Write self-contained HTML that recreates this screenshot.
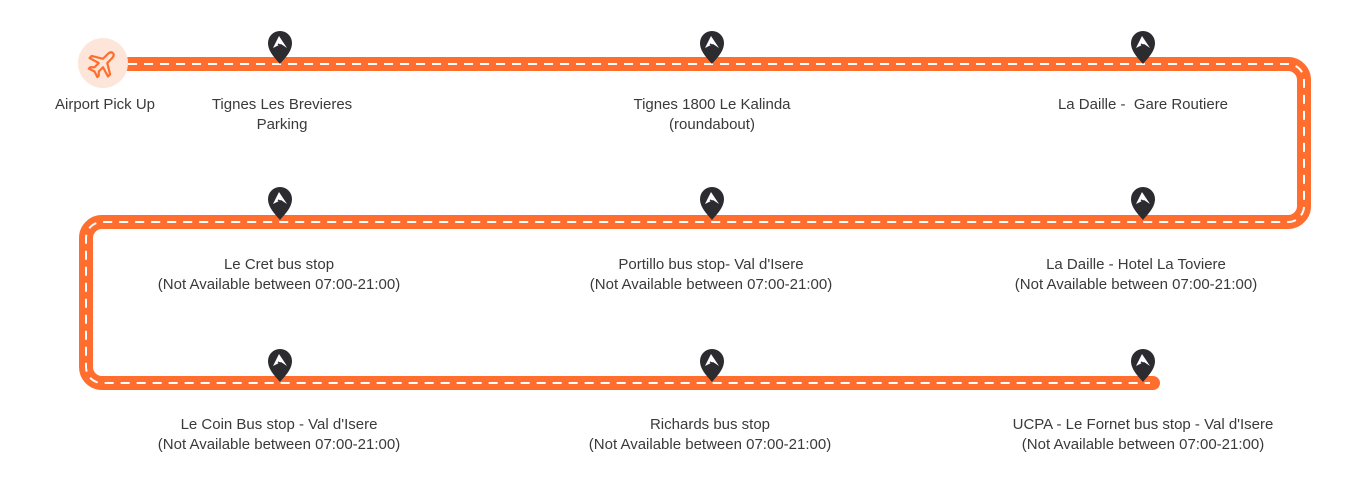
<!DOCTYPE html>
<html><head><meta charset="utf-8"><style>
html,body{margin:0;padding:0;background:#fff;}
body{width:1352px;height:485px;position:relative;overflow:hidden;font-family:"Liberation Sans",sans-serif;}
.l{position:absolute;width:340px;margin-left:-170px;text-align:center;font-size:15px;line-height:20px;color:#3a3a3a;}
svg{position:absolute;left:0;top:0;}
</style></head><body>
<svg width="1352" height="485" viewBox="0 0 1352 485">
<defs>
<g id="pin">
<path d="M0,0 C-4,-5 -12,-12 -12,-21 A12,12 0 1 1 12,-21 C12,-12 4,-5 0,0 Z" fill="#2b2b30"/>
<path d="M-7,-16 L-1,-28 L7,-16 L1,-20 Z" fill="#fff"/>
<path d="M-2,-20 L3,-17" stroke="#2b2b30" stroke-width="1.5"/>
</g>
</defs>
<path d="M128,64 H1288 A16,16 0 0 1 1304,80 V206 A16,16 0 0 1 1288,222 H102 A16,16 0 0 0 86,238 V367 A16,16 0 0 0 102,383 H1153" fill="none" stroke="#ff6e2f" stroke-width="14" stroke-linecap="round"/>
<path d="M128,64 H1288 A16,16 0 0 1 1304,80 V206 A16,16 0 0 1 1288,222 H102 A16,16 0 0 0 86,238 V367 A16,16 0 0 0 102,383 H1150" fill="none" stroke="#fff" stroke-width="2" stroke-dasharray="9,7"/>
<circle cx="103" cy="63" r="25" fill="#fde6d9"/>
<g transform="translate(103,63) rotate(45)" fill="none" stroke="#ff6e2f" stroke-width="2.2" stroke-linejoin="round">
<path d="M0,-14 C2,-14 3,-12 3,-9 V-3 L13,3 V6 L3,3 V9 L6,12 V14 L0,12 L-6,14 V12 L-3,9 V3 L-13,6 V3 L-3,-3 V-9 C-3,-12 -2,-14 0,-14 Z"/>
</g>
<use href="#pin" x="280" y="64"/>
<use href="#pin" x="712" y="64"/>
<use href="#pin" x="1143" y="64"/>
<use href="#pin" x="280" y="220"/>
<use href="#pin" x="712" y="220"/>
<use href="#pin" x="1143" y="220"/>
<use href="#pin" x="280" y="382"/>
<use href="#pin" x="712" y="382"/>
<use href="#pin" x="1143" y="382"/>
</svg>
<div class="l" style="left:105px;top:95px">Airport Pick Up</div>
<div class="l" style="left:282px;top:95px">Tignes Les Brevieres<br>Parking</div>
<div class="l" style="left:712px;top:95px">Tignes 1800 Le Kalinda<br>(roundabout)</div>
<div class="l" style="left:1143px;top:95px">La Daille -&nbsp; Gare Routiere</div>
<div class="l" style="left:279px;top:255px">Le Cret bus stop<br>(Not Available between 07:00-21:00)</div>
<div class="l" style="left:711px;top:255px">Portillo bus stop- Val d'Isere<br>(Not Available between 07:00-21:00)</div>
<div class="l" style="left:1136px;top:255px">La Daille - Hotel La Toviere<br>(Not Available between 07:00-21:00)</div>
<div class="l" style="left:279px;top:415px">Le Coin Bus stop - Val d'Isere<br>(Not Available between 07:00-21:00)</div>
<div class="l" style="left:710px;top:415px">Richards bus stop<br>(Not Available between 07:00-21:00)</div>
<div class="l" style="left:1143px;top:415px">UCPA - Le Fornet bus stop - Val d'Isere<br>(Not Available between 07:00-21:00)</div>
</body></html>
